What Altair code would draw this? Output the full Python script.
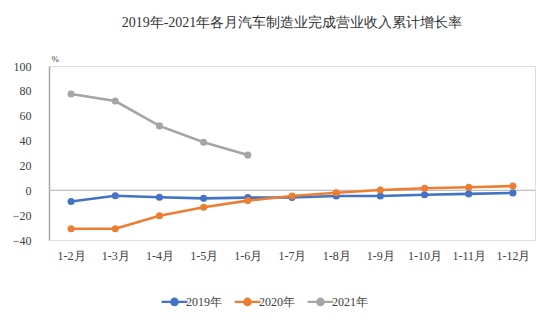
import altair as alt
import pandas as pd

months = ["1-2月", "1-3月", "1-4月", "1-5月", "1-6月", "1-7月", "1-8月", "1-9月", "1-10月", "1-11月", "1-12月"]
v2019 = [-9.0, -4.4, -5.6, -6.5, -5.9, -5.8, -4.6, -4.6, -3.6, -2.9, -2.1]
v2020 = [-31.0, -31.0, -20.5, -13.6, -8.3, -4.6, -2.0, 0.2, 1.6, 2.5, 3.4]
v2021 = [77.5, 71.8, 51.8, 38.7, 28.3, None, None, None, None, None, None]
series = ["2019年", "2020年", "2021年"]
colors = ["#4472C4", "#ED7D31", "#A5A5A5"]
yticks = [-40, -20, 0, 20, 40, 60, 80, 100]

rows = []
for name, vals in zip(series, [v2019, v2020, v2021]):
    for m, v in zip(months, vals):
        if v is not None:
            rows.append({"month": m, "value": v, "series": name})
df = pd.DataFrame(rows)

FONT = "serif"

yscale = alt.Scale(domain=[-40, 100], nice=False, zero=False)
yaxis = alt.Axis(values=yticks, grid=False, ticks=False, labelOverlap=False,
                 domainColor="#A6A6A6", domainWidth=1.5, labelPadding=18,
                 labelFontSize=12, labelColor="#404040", labelFont=FONT,
                 title="%", titleAngle=0, titleX=2, titleY=-3, titleAlign="left",
                 titleBaseline="bottom", titleFontSize=9, titleFontWeight="normal",
                 titleColor="#404040", titleFont=FONT)

x = alt.X("month:N", sort=months, scale=alt.Scale(type="point", padding=0.5),
          axis=alt.Axis(title=None, labelAngle=0, domain=False, ticks=False,
                        labelPadding=10, labelFontSize=12, labelColor="#404040",
                        labelFont=FONT))
y = alt.Y("value:Q", scale=yscale, axis=yaxis)

legend_symbol = "M-1.6,0H1.6M0.4,0A0.4,0.4 0 1,1 -0.4,0A0.4,0.4 0 1,1 0.4,0Z"
color = alt.Color("series:N", sort=series,
                  scale=alt.Scale(domain=series, range=colors),
                  legend=alt.Legend(title=None, orient="none", direction="horizontal",
                                    legendX=116, legendY=226, symbolType=legend_symbol,
                                    symbolSize=260, symbolStrokeWidth=2.2,
                                    labelFontSize=12, labelFont=FONT, labelColor="#404040",
                                    columnPadding=8, labelOffset=2))

zero = alt.Chart(pd.DataFrame({"value": [0]})).mark_rule(color="#BFBFBF", strokeWidth=1.3).encode(y=y)
base = alt.Chart(df)
lines = base.mark_line(strokeWidth=2.6).encode(x=x, y=y, color=color, order=alt.Order("series:N"))
points = base.mark_point(filled=True, size=50, opacity=1).encode(x=x, y=y, color=color)

chart = alt.layer(zero, lines, points).properties(
    width=486, height=174,
    title=alt.TitleParams("2019年-2021年各月汽车制造业完成营业收入累计增长率", fontSize=14,
                          font=FONT, fontWeight="normal", color="#333333",
                          anchor="middle", frame="group", offset=24),
    autosize=alt.AutoSizeParams(type="none"),
    padding={"left": 49, "top": 66, "right": 18, "bottom": 87},
).configure_view(stroke=None).configure(background="white", font=FONT)

chart.save("out.html", embed_options={"renderer": "svg", "actions": False})
